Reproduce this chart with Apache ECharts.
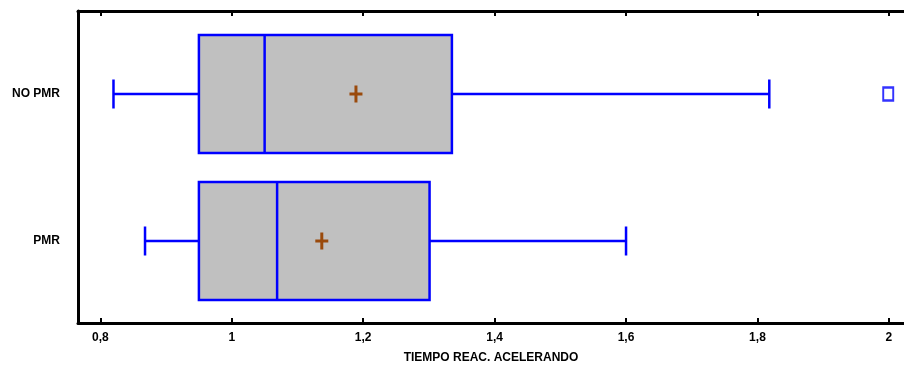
<!DOCTYPE html>
<html>
<head>
<meta charset="utf-8">
<script src="https://cdn.jsdelivr.net/npm/echarts@6/dist/echarts.min.js"></script>
<style>html,body{margin:0;padding:0;background:#fff}#c{width:904px;height:369px}</style>
</head>
<body>
<div id="c"></div>
<script>
// ---- data ----
var categories = ['PMR', 'NO PMR'];
var whiskerLow = [0.868, 0.820];
var q1 = [0.950, 0.950];
var median = [1.069, 1.050];
var q3 = [1.301, 1.335];
var whiskerHigh = [1.600, 1.818];
var means = [1.137, 1.189];
var outliers = [[1.999, 1]]; // [value, category index]
var xTicks = [0.8, 1.0, 1.2, 1.4, 1.6, 1.8, 2.0];
var xTitle = 'TIEMPO REAC. ACELERANDO';

var FONT = '"Liberation Sans Narrow","Liberation Sans",Arial,sans-serif';
var BLUE = '#0000ff';
var BOX_HALF = 59, CAP_HALF = 14.5;

var boxData = categories.map(function (c, i) {
  return [i, whiskerLow[i], q1[i], median[i], q3[i], whiskerHigh[i]];
});
var meanData = categories.map(function (c, i) { return [means[i], i]; });

function renderBox(params, api) {
  var i = api.value(0);
  var lo = api.coord([api.value(1), i]);
  var a = api.coord([api.value(2), i]);
  var m = api.coord([api.value(3), i]);
  var b = api.coord([api.value(4), i]);
  var hi = api.coord([api.value(5), i]);
  var y = a[1];
  var ls = {stroke: BLUE, lineWidth: 2.5, fill: null};
  return {
    type: 'group',
    children: [
      {type: 'line', shape: {x1: lo[0], y1: y, x2: a[0], y2: y}, style: ls},
      {type: 'line', shape: {x1: b[0], y1: y, x2: hi[0], y2: y}, style: ls},
      {type: 'line', shape: {x1: lo[0], y1: y - CAP_HALF, x2: lo[0], y2: y + CAP_HALF}, style: ls},
      {type: 'line', shape: {x1: hi[0], y1: y - CAP_HALF, x2: hi[0], y2: y + CAP_HALF}, style: ls},
      {type: 'rect', shape: {x: a[0], y: y - BOX_HALF, width: b[0] - a[0], height: 2 * BOX_HALF},
        style: {fill: '#c0c0c0', stroke: BLUE, lineWidth: 2.5}},
      {type: 'line', shape: {x1: m[0], y1: y - BOX_HALF, x2: m[0], y2: y + BOX_HALF}, style: ls}
    ]
  };
}

function renderMean(params, api) {
  var p = api.coord([api.value(0), api.value(1)]);
  var st = {stroke: '#9a4a0c', lineWidth: 3};
  return {
    type: 'group',
    children: [
      {type: 'line', shape: {x1: p[0] - 6.5, y1: p[1], x2: p[0] + 6.5, y2: p[1]}, style: st},
      {type: 'line', shape: {x1: p[0], y1: p[1] - 8.5, x2: p[0], y2: p[1] + 8.5}, style: st}
    ]
  };
}

var chart = echarts.init(document.getElementById('c'), null, {renderer: 'canvas'});
var axisLineStyle = {color: '#000', width: 3};
var labelStyle = {fontFamily: FONT, fontWeight: 'bold', fontSize: 12, color: '#000'};

chart.setOption({
  animation: false,
  backgroundColor: '#fff',
  grid: {left: 78, right: 0, top: 11, bottom: 46},
  xAxis: [{
    type: 'value', position: 'bottom', min: 0.766, max: 2.023,
    axisLine: {show: true, onZero: false, lineStyle: axisLineStyle},
    axisTick: {show: true, inside: true, length: 5, lineStyle: {color: '#000', width: 2}, customValues: xTicks},
    axisLabel: Object.assign({customValues: xTicks, margin: 9,
      formatter: function (v) { return String(+v.toFixed(1)).replace('.', ','); }}, labelStyle),
    splitLine: {show: false},
    name: xTitle, nameLocation: 'middle', nameGap: 29,
    nameTextStyle: {fontFamily: FONT, fontWeight: 'bold', fontSize: 12, color: '#000'}
  }, {
    type: 'value', position: 'top', min: 0.766, max: 2.023,
    axisLine: {show: true, onZero: false, lineStyle: axisLineStyle},
    axisTick: {show: true, inside: true, length: 5, lineStyle: {color: '#000', width: 2}, customValues: xTicks},
    axisLabel: {show: false},
    splitLine: {show: false}
  }],
  yAxis: {
    type: 'value', min: -0.5578, max: 1.5646,
    axisLine: {show: true, onZero: false, lineStyle: axisLineStyle},
    axisTick: {show: false},
    splitLine: {show: false},
    axisLabel: Object.assign({customValues: [0, 1], margin: 18,
      formatter: function (v) { return categories[Math.round(v)]; }}, labelStyle)
  },
  series: [{
    type: 'custom', renderItem: renderBox, data: boxData,
    encode: {x: [1, 2, 3, 4, 5], y: 0}, silent: true, z: 2
  }, {
    type: 'custom', renderItem: renderMean, data: meanData,
    encode: {x: 0, y: 1}, silent: true, z: 3
  }, {
    type: 'scatter', data: outliers, symbol: 'rect', symbolSize: [10, 13],
    itemStyle: {color: '#fff', borderColor: BLUE, borderWidth: 2.2}, silent: true, z: 3
  }]
});
</script>
</body>
</html>
